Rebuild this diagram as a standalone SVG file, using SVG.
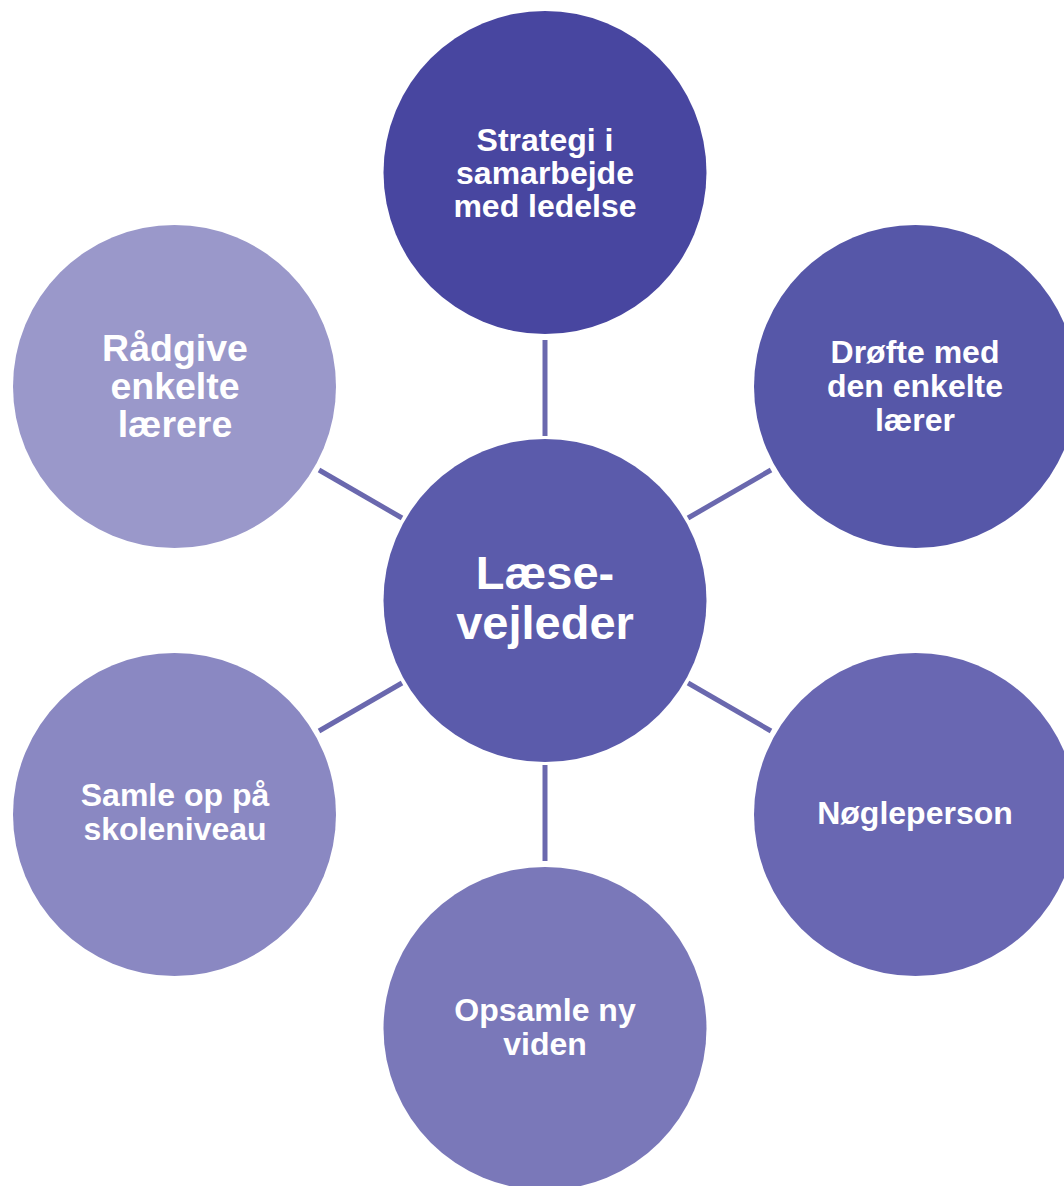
<svg xmlns="http://www.w3.org/2000/svg" width="1064" height="1186" viewBox="0 0 1064 1186">
<style>
.t{font-family:"Liberation Sans",Arial,sans-serif;font-weight:bold;fill:#ffffff;text-anchor:middle}
.s{font-size:32px}
.c{stroke:#6A68AE;stroke-width:5;fill:none}
</style>
<rect width="1064" height="1186" fill="#ffffff"/>
<g id="connectors">
<line class="c" x1="545" y1="340" x2="545" y2="436"/>
<line class="c" x1="545" y1="765" x2="545" y2="861"/>
<line class="c" x1="688" y1="518" x2="771" y2="470"/>
<line class="c" x1="402" y1="518" x2="319" y2="470"/>
<line class="c" x1="688" y1="683" x2="771" y2="731"/>
<line class="c" x1="402" y1="683" x2="319" y2="731"/>
</g>
<g id="node-top">
<circle cx="545" cy="172.5" r="161.5" fill="#4846A0"/>
<text class="t s"><tspan x="545" y="150.5">Strategi i</tspan><tspan x="545" y="183.5">samarbejde</tspan><tspan x="545" y="216.5">med ledelse</tspan></text>
</g>
<g id="node-topright">
<circle cx="915.5" cy="386.5" r="161.5" fill="#5657A8"/>
<text class="t s"><tspan x="915" y="363">Drøfte med</tspan><tspan x="915" y="397">den enkelte</tspan><tspan x="915" y="431">lærer</tspan></text>
</g>
<g id="node-bottomright">
<circle cx="915.5" cy="814.5" r="161.5" fill="#6967B2"/>
<text class="t s" x="915" y="824">Nøgleperson</text>
</g>
<g id="node-bottom">
<circle cx="545" cy="1028.5" r="161.5" fill="#7A78B9"/>
<text class="t s"><tspan x="545" y="1021">Opsamle ny</tspan><tspan x="545" y="1055">viden</tspan></text>
</g>
<g id="node-bottomleft">
<circle cx="174.5" cy="814.5" r="161.5" fill="#8A88C2"/>
<text class="t s"><tspan x="175" y="806">Samle op på</tspan><tspan x="175" y="840">skoleniveau</tspan></text>
</g>
<g id="node-topleft">
<circle cx="174.5" cy="386.5" r="161.5" fill="#9A98CA"/>
<text class="t" style="font-size:37.5px"><tspan x="175" y="361">Rådgive</tspan><tspan x="175" y="399">enkelte</tspan><tspan x="175" y="437">lærere</tspan></text>
</g>
<g id="node-center">
<circle cx="545" cy="600.5" r="161.5" fill="#5B5BAB"/>
<text class="t" style="font-size:47px"><tspan x="545" y="589">Læse-</tspan><tspan x="545" y="639">vejleder</tspan></text>
</g>
</svg>
